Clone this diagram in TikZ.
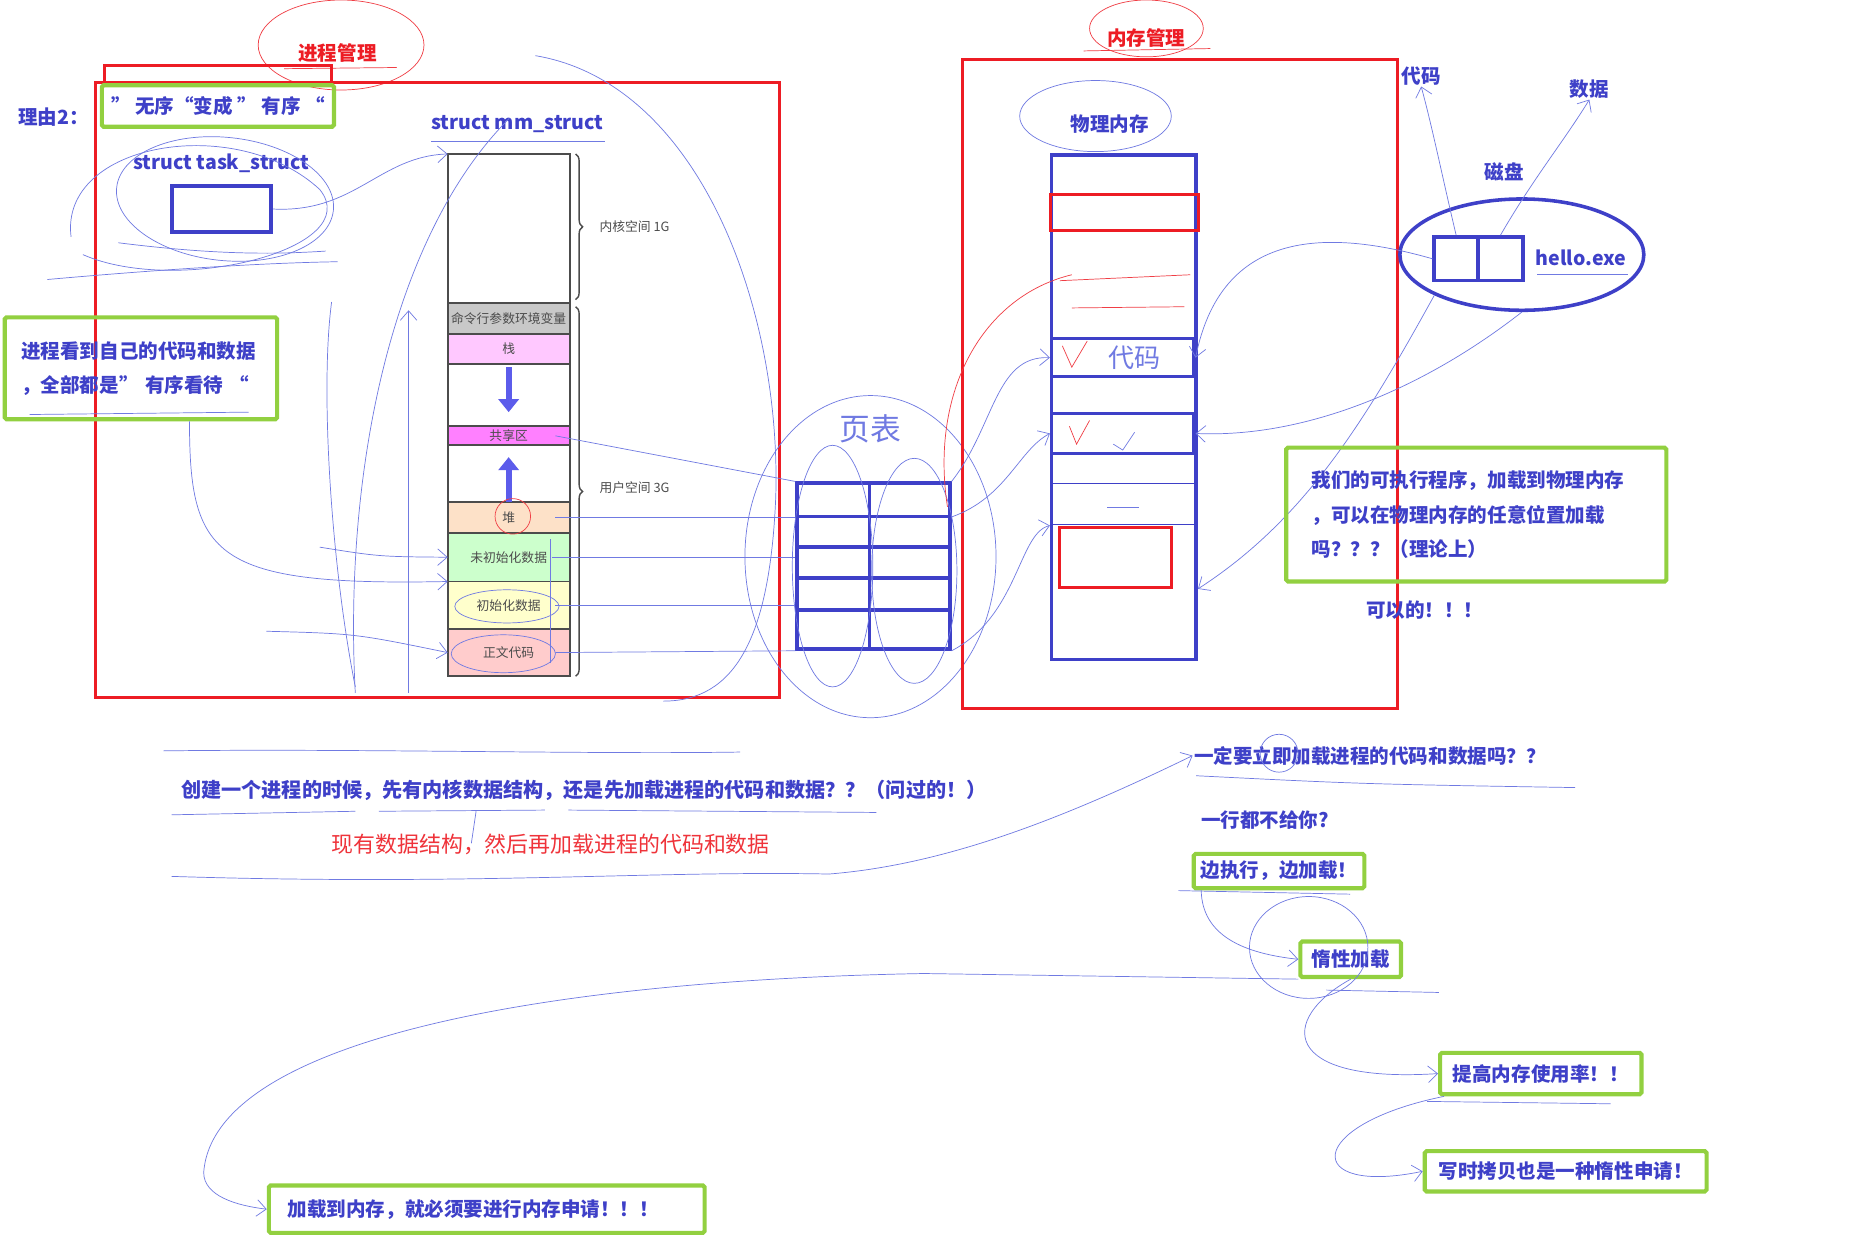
\documentclass[tikz,border=0pt]{standalone}
\usepackage{fontspec}
\setmainfont{Noto Sans CJK SC}
\usepackage{tikz}
\usetikzlibrary{arrows.meta,positioning,shapes.geometric,decorations.pathreplacing}
\definecolor{PenBlue}{RGB}{62,64,200}
\definecolor{InkBlue}{RGB}{112,122,226}
\definecolor{MarkRed}{RGB}{237,28,36}
\definecolor{MarkGreen}{RGB}{146,208,64}
\definecolor{SegGray}{RGB}{200,200,200}
\definecolor{StackPink}{RGB}{255,200,255}
\definecolor{ShareMag}{RGB}{255,128,255}
\definecolor{HeapPeach}{RGB}{253,225,200}
\definecolor{BssGreen}{RGB}{204,255,204}
\definecolor{DataYellow}{RGB}{255,255,204}
\definecolor{TextRed}{RGB}{255,204,204}
\definecolor{ArrowFill}{RGB}{92,92,235}

\begin{document}
\begin{tikzpicture}[
  x=1pt,y=-1pt,
  node distance=0pt,
  lbl/.style={text=PenBlue,font=\bfseries\fontsize{16.5}{20}\selectfont,inner sep=1pt},
  redlbl/.style={text=MarkRed,font=\bfseries\fontsize{16.5}{20}\selectfont,inner sep=1pt},
  gbox/.style={draw=MarkGreen,line width=3.5pt,rounded corners=1.5pt,
    text=PenBlue,font=\bfseries\fontsize{16.5}{29}\selectfont,inner sep=0pt},
  rbox/.style={draw=MarkRed,line width=2.5pt},
  bbox/.style={draw=PenBlue,line width=3pt},
  seg/.style={draw=black!70,line width=1.6pt,minimum width=103pt,inner sep=0pt,
    outer sep=0pt,text=black!70,font=\fontsize{10.8}{12}\selectfont},
  brlbl/.style={anchor=west,text=black!70,font=\fontsize{10.8}{12}\selectfont,inner sep=0pt},
  fatarr/.style={draw=ArrowFill,line width=5pt,-{Triangle[length=11pt,width=17pt]}},
  hand/.style={text=InkBlue,font=\fontsize{26}{28}\selectfont,inner sep=0pt},
  pen/.style={draw=InkBlue,line width=0.6pt},
  redpen/.style={draw=MarkRed!85,line width=0.6pt},
  arr/.style={pen,-{Straight Barb[length=8pt,width=14pt]}}
]
  \fill[white] (0,0) rectangle (1568,1044);
  \useasboundingbox (0,0) rectangle (1568,1044);

  % process management
  \node[redlbl] (pmtitle) at (285,45) {进程管理};
  \draw[redpen] (288,38) ellipse [x radius=70pt,y radius=38pt];
  \draw[redpen] (240,58) -- (335,57);
  \draw[rbox] (88,72) -- (88,55) -- (280,55) -- (280,72);
  \draw[rbox] (81,70) rectangle (658,589);
  \node[lbl] (reason) at (45,99) {理由2：};
  \node[gbox,minimum width=196pt,minimum height=35pt] (order) at (184,89.5)
    {” 无序“变成 ” 有序 “};
  \node[lbl] (tsklbl) at (187,138) {struct task\_struct};
  \node[bbox,minimum width=84pt,minimum height=39pt] (tsk) at (187,176.5) {};
  \draw[pen,rotate around={-6:(190,168)}] (190,168) ellipse [x radius=92pt,y radius=52pt];
  \draw[pen] (60,200) .. controls (50,120) and (200,95) .. (270,160)
    .. controls (310,210) and (150,250) .. (70,215);
  \draw[pen] (100,205) .. controls (180,215) and (230,215) .. (275,212);
  \draw[pen] (40,236) .. controls (130,228) and (220,222) .. (285,221);
  \node[gbox,minimum width=230pt,minimum height=86pt,align=left,text width=202pt] (seen)
    at (119,311) {进程看到自己的代码和数据\\，全部都是” 有序看待 “};
  \draw[pen] (25,350) -- (210,348);

  % mm_struct
  \node[lbl] (mmlbl) at (437,105) {struct mm\_struct};
  \draw[pen] (364,119) -- (511,119);
  \node[seg,minimum height=126pt] (kern) at (429.5,193) {};
  \node[seg,fill=SegGray,minimum height=26pt,below=of kern] (argv) {命令行参数环境变量};
  \node[seg,fill=StackPink,minimum height=25pt,below=of argv] (stk) {栈};
  \node[seg,minimum height=53pt,below=of stk] (gapa) {};
  \node[seg,fill=ShareMag,minimum height=16pt,below=of gapa] (shr) {共享区};
  \node[seg,minimum height=48pt,below=of shr] (gapb) {};
  \node[seg,fill=HeapPeach,minimum height=26pt,below=of gapb] (heap) {堆};
  \node[seg,fill=BssGreen,minimum height=41pt,below=of heap] (bss) {未初始化数据};
  \node[seg,fill=DataYellow,minimum height=40pt,below=of bss] (dat) {初始化数据};
  \node[seg,fill=TextRed,minimum height=40pt,below=of dat] (txt) {正文代码};
  \draw[fatarr] ([yshift=-3pt]gapa.north) -- ([yshift=12pt]gapa.south);
  \draw[fatarr] (gapb.south) -- ([yshift=-10pt]gapb.north);
  \draw[decorate,decoration={brace,amplitude=6pt},line width=1.2pt,black!70]
    ([xshift=5pt]kern.north east) -- ([xshift=5pt,yshift=3pt]kern.south east);
  \draw[decorate,decoration={brace,amplitude=6pt},line width=1.2pt,black!70]
    ([xshift=5pt,yshift=-3pt]argv.north east) -- ([xshift=5pt]txt.south east);
  \node[brlbl] (kernlbl) at (506,191) {内核空间 1G};
  \node[brlbl] (userlbl) at (506,412) {用户空间 3G};
  \draw[redpen] (433,436) circle [radius=15pt];
  \draw[pen] (428,512) ellipse [x radius=44pt,y radius=14pt];
  \draw[pen] (425,552) ellipse [x radius=44pt,y radius=16pt];
  \draw[arr] (tsk.east) .. controls (300,180) and (320,132) .. (kern.north west);
  \draw[pen] (452,47) .. controls (590,70) and (660,260) .. (655,420)
    .. controls (650,540) and (620,592) .. (560,592);
  \draw[pen] (300,585) .. controls (290,400) and (330,200) .. (430,100);
  \draw[pen] (280,255) .. controls (270,330) and (280,480) .. (300,580);
  \draw[arr] (345,585) -- (345,262);
  \draw[arr] ([xshift=41pt]seen.south) .. controls (160,470) and (180,495) .. (bss.south west);
  \draw[arr] (270,462) .. controls (320,470) .. (bss.west);
  \draw[arr] (225,533) .. controls (300,535) .. (txt.west);
  \draw[pen] (465,560) -- (465,455);

  % page table
  \node[hand] (pagetbl) at (735,362) {页表};
  \node[bbox,minimum width=129pt,minimum height=140pt] (pt) at (737.5,478) {};
  \foreach \yy in {436,462,488,515}
    \draw[bbox] (673,\yy) -- (802,\yy);
  \draw[bbox] (734,408) -- (734,548);
  \draw[pen] (735,470) ellipse [x radius=106pt,y radius=136pt];
  \draw[pen] (703,478) ellipse [x radius=34pt,y radius=102pt];
  \draw[pen] (772,482) ellipse [x radius=36pt,y radius=95pt];
  \draw[pen] ([xshift=-12pt]shr.east) -- (pt.north west);
  \draw[pen] ([xshift=-12pt]heap.east) -- (pt.west |- heap.east);
  \draw[pen] ([xshift=-15pt]bss.east) -- (pt.west |- bss.east);
  \draw[pen] ([xshift=-12pt]dat.east) -- (pt.west |- dat.east);
  \draw[pen] ([xshift=-12pt]txt.east) -- (pt.south west);

  % memory management
  \node[redlbl] (memtitle) at (968,32) {内存管理};
  \draw[redpen] (968,24) ellipse [x radius=48pt,y radius=24pt];
  \draw[redpen] (915,43) -- (1022,41);
  \draw[rbox] (813,50) rectangle (1180,598);
  \node[lbl] (physlbl) at (937,105) {物理内存};
  \draw[pen] (925,98) ellipse [x radius=64pt,y radius=30pt];
  \node[bbox,minimum width=122pt,minimum height=426pt] (pm) at (949,344) {};
  \node[rbox,minimum width=125pt,minimum height=31pt] (slota) at (949.5,179.5) {};
  \node[bbox,minimum width=120pt,minimum height=32pt] (code) at (948,302) {};
  \node[bbox,minimum width=120pt,minimum height=34pt] (slotb) at (948,366) {};
  \node[rbox,minimum width=94pt,minimum height=51pt] (slotc) at (942,470.5) {};
  \draw[pen,draw=PenBlue] (888,408) -- (1010,408);
  \draw[pen,draw=PenBlue] (888,443) -- (1010,443);
  \draw[pen] (935,428) -- (962,428);
  \node[hand,font=\fontsize{22}{24}\selectfont] (codehand) at (958,302) {代码};
  \draw[redpen] (897,292) -- (905,310) -- (918,288);
  \draw[redpen] (903,360) -- (909,375) -- (920,355);
  \draw[pen] (940,375) -- (948,380) -- (958,365);
  \draw[redpen] (800,428) .. controls (785,330) and (830,250) .. (905,232);
  \draw[redpen] (895,237) -- (1005,232);
  \draw[redpen] (905,260) -- (1000,259);
  \draw[arr] (pt.north east) .. controls (840,360) and (840,300) .. (code.west);
  \draw[arr] ([yshift=-30pt]pt.north east) .. controls (850,420) and (860,380) .. (slotb.west);
  \draw[arr] (pt.south east) .. controls (860,520) and (860,450) .. (pm.west |- slotc.north);

  % disk
  \node[lbl] (daima) at (1200,64) {代码};
  \node[lbl] (shuju) at (1342,75) {数据};
  \node[lbl] (cipan) at (1270,145) {磁盘};
  \node[ellipse,draw=PenBlue,line width=3pt,minimum width=206pt,minimum height=94pt] (disk)
    at (1285,215) {};
  \node[bbox,minimum width=37pt,minimum height=37pt] (blka) at (1229.5,218.5) {};
  \node[bbox,minimum width=38pt,minimum height=37pt] (blkb) at (1267,218.5) {};
  \node[lbl] (exe) at (1335,218) {hello.exe};
  \draw[pen] (1298,232) -- (1375,232);
  \draw[arr] (blka.north) .. controls (1218,150) and (1210,110) .. (daima.south);
  \draw[arr] (blkb.north) .. controls (1295,150) and (1320,120) .. (shuju.south);
  \draw[arr] (blka.west) .. controls (1110,190) and (1030,200) .. (code.east);
  \draw[arr] (disk.south) .. controls (1200,330) and (1100,370) .. (slotb.east);
  \draw[arr] (disk.south west) .. controls (1150,360) and (1100,440) .. (pm.east |- slotc.south);
  \node[gbox,minimum width=321pt,minimum height=113pt,align=left,text width=278pt] (anyplace)
    at (1246.5,434.5) {我们的可执行程序，加载到物理内存\\，可以在物理内存的任意位置加载\\吗？？？（理论上）};
  \node[lbl] (yes) at (1203,515) {可以的！！！};

  % questions
  \draw[pen] (138,634) .. controls (300,632) and (500,637) .. (625,635);
  \node[lbl,font=\bfseries\fontsize{17}{20}\selectfont] (order2) at (493,667)
    {创建一个进程的时候，先有内核数据结构，还是先加载进程的代码和数据？？（问过的！）};
  \draw[pen] (145,688) -- (300,685);
  \draw[pen] (320,685) -- (460,684);
  \draw[pen] (480,684) -- (740,686);
  \draw[pen] (402,685) -- (398,712);
  \node[text=MarkRed!90,font=\fontsize{18.5}{20}\selectfont,inner sep=1pt] (answer) at (465,713)
    {现有数据结构，然后再加载进程的代码和数据};
  \draw[pen] (145,740) .. controls (400,748) and (550,735) .. (700,738);
  \coordinate (ansend) at (700,738);
  \node[lbl,anchor=west] (now) at (1007,638) {一定要立即加载进程的代码和数据吗？？};
  \draw[pen] (1080,636) circle [radius=16pt];
  \draw[pen] (1010,655) .. controls (1150,662) .. (1330,665);
  \draw[arr] (ansend) .. controls (800,730) and (900,690) .. (now.west);
  \node[lbl,anchor=west] (noline) at (1013,692) {一行都不给你?};
  \node[gbox,minimum width=144pt,minimum height=29pt] (both) at (1080,735.5) {边执行，边加载！};
  \draw[pen] (995,752) -- (1140,755);
  \node[gbox,minimum width=85pt,minimum height=30pt] (lazy) at (1140.5,810) {惰性加载};
  \draw[pen] (1105,800) ellipse [x radius=50pt,y radius=43pt];
  \draw[pen] (1120,836) -- (1215,838);
  \node[gbox,minimum width=170pt,minimum height=35pt] (usage) at (1301,906.5) {提高内存使用率！！};
  \draw[pen] (1205,930) -- (1360,932);
  \node[gbox,minimum width=238pt,minimum height=34pt] (cow) at (1322,989) {写时拷贝也是一种惰性申请！};
  \node[gbox,minimum width=368pt,minimum height=40pt,align=left,text width=336pt] (alloc)
    at (411,1021) {加载到内存，就必须要进行内存申请！！！};
  \draw[arr] ([xshift=8pt]both.south west) .. controls (1015,790) and (1050,805) .. (lazy.west);
  \draw[arr] (lazy.south) .. controls (1080,860) and (1080,915) .. (usage.west);
  \draw[arr] ([xshift=5pt]usage.south west) .. controls (1100,950) and (1100,1010) .. (cow.west);
  \draw[arr] (lazy.south west) -- (780,822) .. controls (450,828) and (180,880) .. (172,990)
    .. controls (172,1010) and (200,1018) .. (alloc.west);
\end{tikzpicture}
\end{document}
